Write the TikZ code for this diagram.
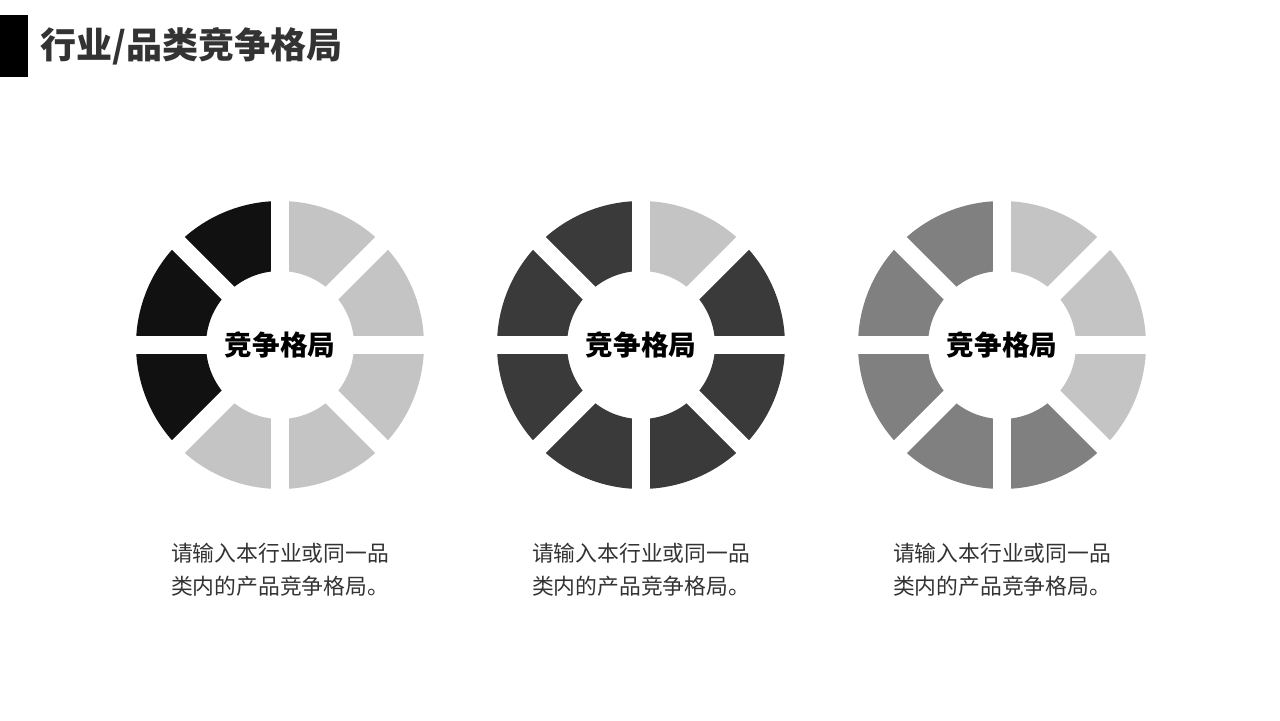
\documentclass[tikz,border=0pt]{standalone}
\usepackage{fontspec}
\setmainfont{Noto Sans CJK SC}
\usetikzlibrary{calc}
\definecolor{lt}{HTML}{C4C4C4}
\definecolor{dk1}{HTML}{111111}
\definecolor{dk2}{HTML}{3A3A3A}
\definecolor{dk3}{HTML}{808080}
\definecolor{tt}{HTML}{333333}
\tikzset{
 gapline/.style={white,line width=9pt},
 ctr/.style={font=\bfseries\fontsize{13.8}{16}\selectfont,text=black},
 desc/.style={font=\fontsize{10.9}{16.5}\selectfont,text=tt,align=left,anchor=north west}}
\begin{document}
\begin{tikzpicture}[x=0.5pt,y=-0.5pt]
\useasboundingbox (0,0) rectangle (1280,720);
\fill[black] (0,15) rectangle (28,77);
\node[anchor=west,text=tt,font=\bfseries\fontsize{18}{21}\selectfont,inner sep=0pt] (title) at (40,46) {行业/品类竞争格局};
\foreach \cx/\a/\b/\c/\d/\e/\f/\g/\h in {280/lt/lt/dk1/dk1/dk1/lt/lt/lt, 641/dk2/lt/dk2/dk2/dk2/dk2/dk2/dk2, 1002/lt/lt/dk3/dk3/dk3/dk3/dk3/lt}{
 \foreach \col [count=\i from 0] in {\a,\b,\c,\d,\e,\f,\g,\h}{
  \fill[\col] ($(\cx,345)+(-\i*45:144)$) arc[start angle=-\i*45,end angle=-\i*45-45,radius=144] -- ($(\cx,345)+(-\i*45-45:74)$) arc[start angle=-\i*45-45,end angle=-\i*45,radius=74] -- cycle;}
 \foreach \ang in {0,45,90,135}{\draw[gapline] ($(\cx,345)+(\ang:150)$) -- ($(\cx,345)+(\ang+180:150)$);}
}
\node[ctr] (c1) at (280,345) {竞争格局};
\node[ctr] (c2) at (641,345) {竞争格局};
\node[ctr] (c3) at (1002,345) {竞争格局};
\node[desc] (d1) at (164,536) {请输入本行业或同一品\\类内的产品竞争格局。};
\node[desc] (d2) at (525,536) {请输入本行业或同一品\\类内的产品竞争格局。};
\node[desc] (d3) at (886,536) {请输入本行业或同一品\\类内的产品竞争格局。};
\end{tikzpicture}
\end{document}
